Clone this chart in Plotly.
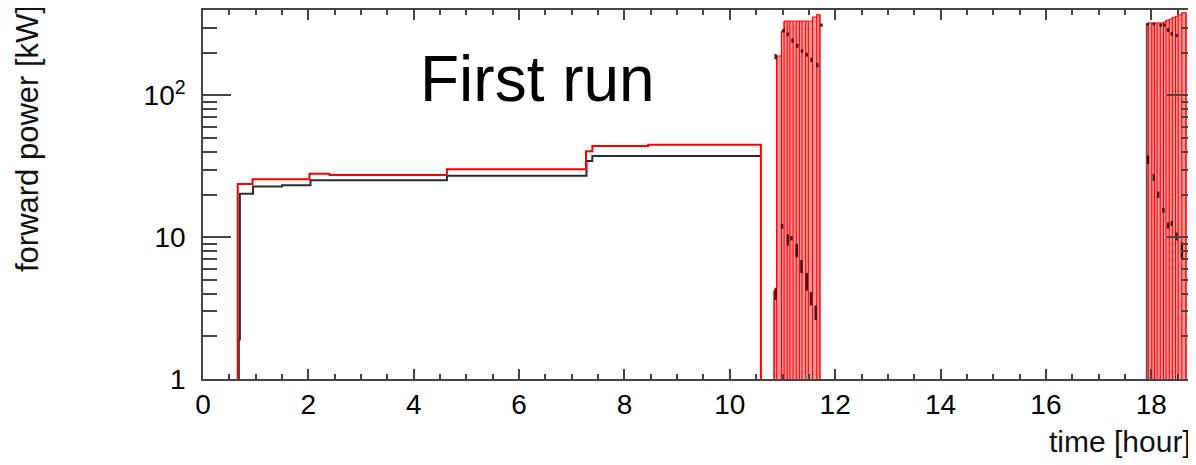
import plotly.graph_objects as go

# ---------------- data ----------------
# steady-state part: step changes (time in hours, power in kW)
RED_STEP_T = [0.66, 0.66, 0.94, 2.02, 2.40, 4.63, 7.27, 7.39, 8.45, 10.59]
RED_STEP_KW = [0.5, 23.7, 25.7, 28.1, 27.5, 30.2, 40.5, 44.1, 44.9, 0.5]

BLACK_STEP_T = [0.68, 0.68, 0.70, 0.95, 1.50, 2.04, 4.63, 7.28, 7.39, 10.59]
BLACK_STEP_KW = [0.5, 1.9, 20.3, 22.8, 23.3, 25.2, 27.1, 34.5, 37.4, 37.4]

# pulsed operation, first block: pulse edges and pulse heights
PULSE1_EDGES_H = [10.84, 10.89, 10.98, 11.03, 11.09, 11.14, 11.20, 11.26,
                  11.32, 11.37, 11.44, 11.49, 11.57, 11.65, 11.71]
PULSE1_PEAK_KW = [4.2, 190, 285, 335, 335, 335, 335, 335, 335, 335, 335,
                  335, 358, 372]

# pulsed operation, second block
PULSE2_EDGES_H = [17.94, 18.01, 18.06, 18.11, 18.17, 18.23, 18.28, 18.34,
                  18.40, 18.46, 18.51, 18.58, 18.66]
PULSE2_PEAK_KW = [325, 325, 325, 325, 325, 330, 340, 346, 356, 362, 370, 384]

# black readings during the pulses (short vertical spreads)
BLACK_MARK_T = [10.87, 10.99, 11.10, 11.17, 11.27, 11.36, 11.46, 11.54, 11.63,
                10.87, 11.02, 11.10, 11.19, 11.28, 11.37, 11.46, 11.55, 11.66, 11.74,
                17.94, 18.05, 18.13, 18.23, 18.32, 18.39, 18.48, 18.58,
                17.93, 18.05, 18.18, 18.25, 18.32, 18.39, 18.48]
BLACK_MARK_LO = [3.6, 11.5, 8.7, 9.5, 7.2, 5.6, 4.2, 3.3, 2.6,
                 180, 278, 262, 236, 217, 200, 188, 172, 158, 305,
                 32.8, 25.0, 19.0, 14.9, 11.5, 12.0, 9.5, 7.1,
                 312, 312, 305, 306, 280, 264, 258]
BLACK_MARK_HI = [4.4, 12.4, 10.5, 10.2, 9.0, 6.9, 5.6, 4.1, 3.3,
                 196, 295, 278, 252, 232, 212, 200, 185, 170, 322,
                 37.6, 27.9, 21.0, 16.1, 12.7, 13.0, 10.8, 9.2,
                 326, 326, 320, 322, 298, 280, 272]

# black rise at the start of the second block
BLACK_RISE2_T = [17.91]
BLACK_RISE2_KW = [320]

X_TICKS = [0, 2, 4, 6, 8, 10, 12, 14, 16, 18]
Y_TICKS = [1, 10, 100]
Y_TICKTEXT = ["1", "10", "10<sup>2</sup>"]
Y_MINOR = [2, 3, 4, 5, 6, 7, 8, 9, 20, 30, 40, 50, 60, 70, 80, 90, 200, 300, 400]

BASE = 0.5  # below the visible range (axis starts at 1 kW)

RED = "#ff0000"
PINK = "rgba(255,0,0,0.40)"
BLACK = "#2b2b2b"
AX = "#444444"
FONT = "Liberation Sans, Arial, Helvetica, sans-serif"


def pulse_outline(edges, peaks):
    xs, ys = [edges[0]], [BASE]
    for i, p in enumerate(peaks):
        xs += [edges[i], edges[i + 1]]
        ys += [p, p]
    xs += [edges[-1], edges[0]]
    ys += [BASE, BASE]
    return xs, ys


def pulse_edges(edges, peaks):
    xs, ys = [], []
    for i, e in enumerate(edges):
        left = peaks[i - 1] if i > 0 else BASE
        right = peaks[i] if i < len(peaks) else BASE
        xs += [e, e, None]
        ys += [BASE, max(left, right), None]
    return xs, ys


fig = go.Figure()

# black trace (drawn first, under the red)
fig.add_trace(go.Scatter(x=BLACK_STEP_T, y=BLACK_STEP_KW, mode="lines",
                         line=dict(color=BLACK, width=2, shape="hv"),
                         hoverinfo="skip", showlegend=False))
bx, by = [], []
for t, k in zip(BLACK_RISE2_T, BLACK_RISE2_KW):
    bx += [t, t, None]
    by += [BASE, k, None]
fig.add_trace(go.Scatter(x=bx, y=by, mode="lines",
                         line=dict(color="#555555", width=1.5),
                         hoverinfo="skip", showlegend=False))

# red trace: steady part
fig.add_trace(go.Scatter(x=RED_STEP_T, y=RED_STEP_KW, mode="lines",
                         line=dict(color=RED, width=2, shape="hv"),
                         hoverinfo="skip", showlegend=False))

# red pulses: filled envelope + edge lines
for edges, peaks in ((PULSE1_EDGES_H, PULSE1_PEAK_KW),
                     (PULSE2_EDGES_H, PULSE2_PEAK_KW)):
    ox, oy = pulse_outline(edges, peaks)
    fig.add_trace(go.Scatter(x=ox, y=oy, mode="lines", fill="toself",
                             fillcolor=PINK, line=dict(color=RED, width=1),
                             hoverinfo="skip", showlegend=False))
    ex, ey = pulse_edges(edges, peaks)
    fig.add_trace(go.Scatter(x=ex, y=ey, mode="lines",
                             line=dict(color=RED, width=1.1),
                             hoverinfo="skip", showlegend=False))

# black readings during pulses
mx, my = [], []
for t, lo, hi in zip(BLACK_MARK_T, BLACK_MARK_LO, BLACK_MARK_HI):
    mx += [t, t, None]
    my += [lo, hi, None]
fig.add_trace(go.Scatter(x=mx, y=my, mode="lines",
                         line=dict(color="rgba(40,0,0,0.85)", width=2.5),
                         hoverinfo="skip", showlegend=False))

fig.add_annotation(text="First run", xref="paper", yref="paper",
                   x=0.3373, y=0.813, xanchor="center", yanchor="middle",
                   showarrow=False, font=dict(family=FONT, size=64, color="black"))
fig.add_annotation(text="forward power [kW]", xref="paper", yref="paper",
                   x=-0.1768, y=0.652, xanchor="center", yanchor="middle",
                   textangle=-90, showarrow=False,
                   font=dict(family=FONT, size=31, color="#111111"))
fig.add_annotation(text="time [hour]", xref="paper", yref="paper",
                   x=0.9976, y=-0.17, xanchor="right", yanchor="middle",
                   showarrow=False, font=dict(family=FONT, size=30, color="#111111"))

# the page adds an 8px body margin; the margins below compensate for it
fig.update_layout(
    width=1196, height=465,
    margin=dict(l=195, r=9, t=0, b=94),
    paper_bgcolor="white", plot_bgcolor="white",
    font=dict(family=FONT, color="black"),
    xaxis=dict(range=[0, 18.83], tickvals=X_TICKS, ticks="inside", ticklen=10,
               tickwidth=1.5, tickcolor=AX, showline=True, linecolor=AX,
               linewidth=1.5, mirror="ticks", showgrid=False, zeroline=False,
               tickfont=dict(family=FONT, size=28, color="black"),
               ticklabelstandoff=0,
               minor=dict(dtick=0.5, ticks="inside", ticklen=5, tickwidth=1.5,
                          tickcolor=AX, showgrid=False)),
    yaxis=dict(type="log", range=[0, 2.603], tickvals=Y_TICKS, ticktext=Y_TICKTEXT,
               ticks="inside", ticklen=28, tickwidth=1.5, tickcolor=AX,
               showline=True, linecolor=AX, linewidth=1.5, mirror="ticks",
               showgrid=False, zeroline=False,
               tickfont=dict(family=FONT, size=28, color="black"),
               ticklabelstandoff=10,
               minor=dict(tickvals=Y_MINOR, ticks="inside", ticklen=14,
                          tickwidth=1.5, tickcolor=AX, showgrid=False)),
)

fig.write_html("out.html")
